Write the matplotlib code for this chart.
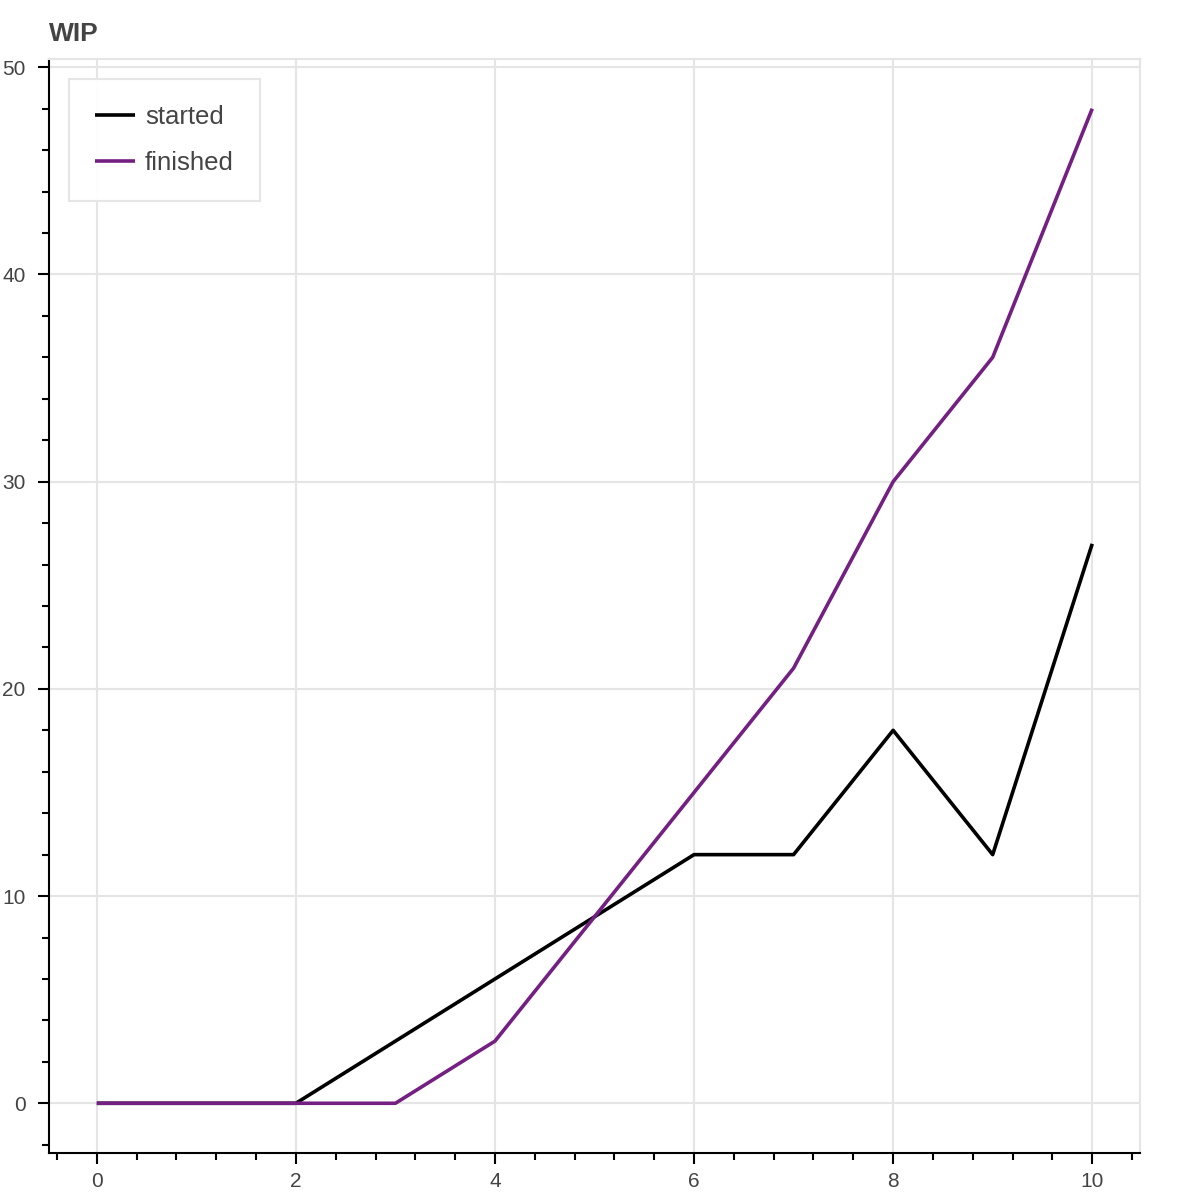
import matplotlib
matplotlib.use("Agg")
import matplotlib.pyplot as plt
from matplotlib.ticker import MultipleLocator

days = [0, 1, 2, 3, 4, 5, 6, 7, 8, 9, 10]
started = [0, 0, 0, 3, 6, 9, 12, 12, 18, 12, 27]
finished = [0, 0, 0, 0, 3, 9, 15, 21, 30, 36, 48]

plt.rcParams['font.family'] = ['Liberation Sans', 'DejaVu Sans']
text_col = '#444444'
grid_col = '#e5e5e5'

fig = plt.figure(figsize=(12, 12), dpi=100)
ax = fig.add_axes([49 / 1200, 47 / 1200, 1091 / 1200, 1094 / 1200])

ax.plot(days, started, color='black', lw=2.6, label='started', solid_capstyle='butt')
ax.plot(days, finished, color='#741f82', lw=2.6, label='finished', solid_capstyle='butt')

ax.set_xlim(-0.48, 10.48)
ax.set_ylim(-2.4, 50.4)
ax.xaxis.set_major_locator(MultipleLocator(2))
ax.xaxis.set_minor_locator(MultipleLocator(0.4))
ax.yaxis.set_major_locator(MultipleLocator(10))
ax.yaxis.set_minor_locator(MultipleLocator(2))

ax.grid(True, which='major', color=grid_col, lw=1.5)
ax.set_axisbelow(True)

for side in ['top', 'right']:
    ax.spines[side].set_color(grid_col)
    ax.spines[side].set_linewidth(1.5)
for side in ['left', 'bottom']:
    ax.spines[side].set_color('black')
    ax.spines[side].set_linewidth(1.5)

ax.tick_params(which='major', direction='out', length=8, width=1.5,
               colors='black', labelcolor=text_col, labelsize=15)
ax.tick_params(axis='x', which='major', pad=6)
ax.tick_params(axis='y', which='major', pad=9)
ax.tick_params(which='minor', direction='out', length=5, width=1.5, colors='black')

ax.set_title('WIP', loc='left', fontsize=19, fontweight='bold', color=text_col, pad=13)

leg = ax.legend(loc='upper left', fontsize=18.5, frameon=True, fancybox=False,
                edgecolor=grid_col, framealpha=0.95, borderpad=1.0,
                handlelength=1.56, handletextpad=0.4, labelspacing=0.86,
                borderaxespad=0.78)
leg.get_frame().set_linewidth(1.5)
for t in leg.get_texts():
    t.set_color(text_col)

fig.savefig('out.png', dpi=100)
